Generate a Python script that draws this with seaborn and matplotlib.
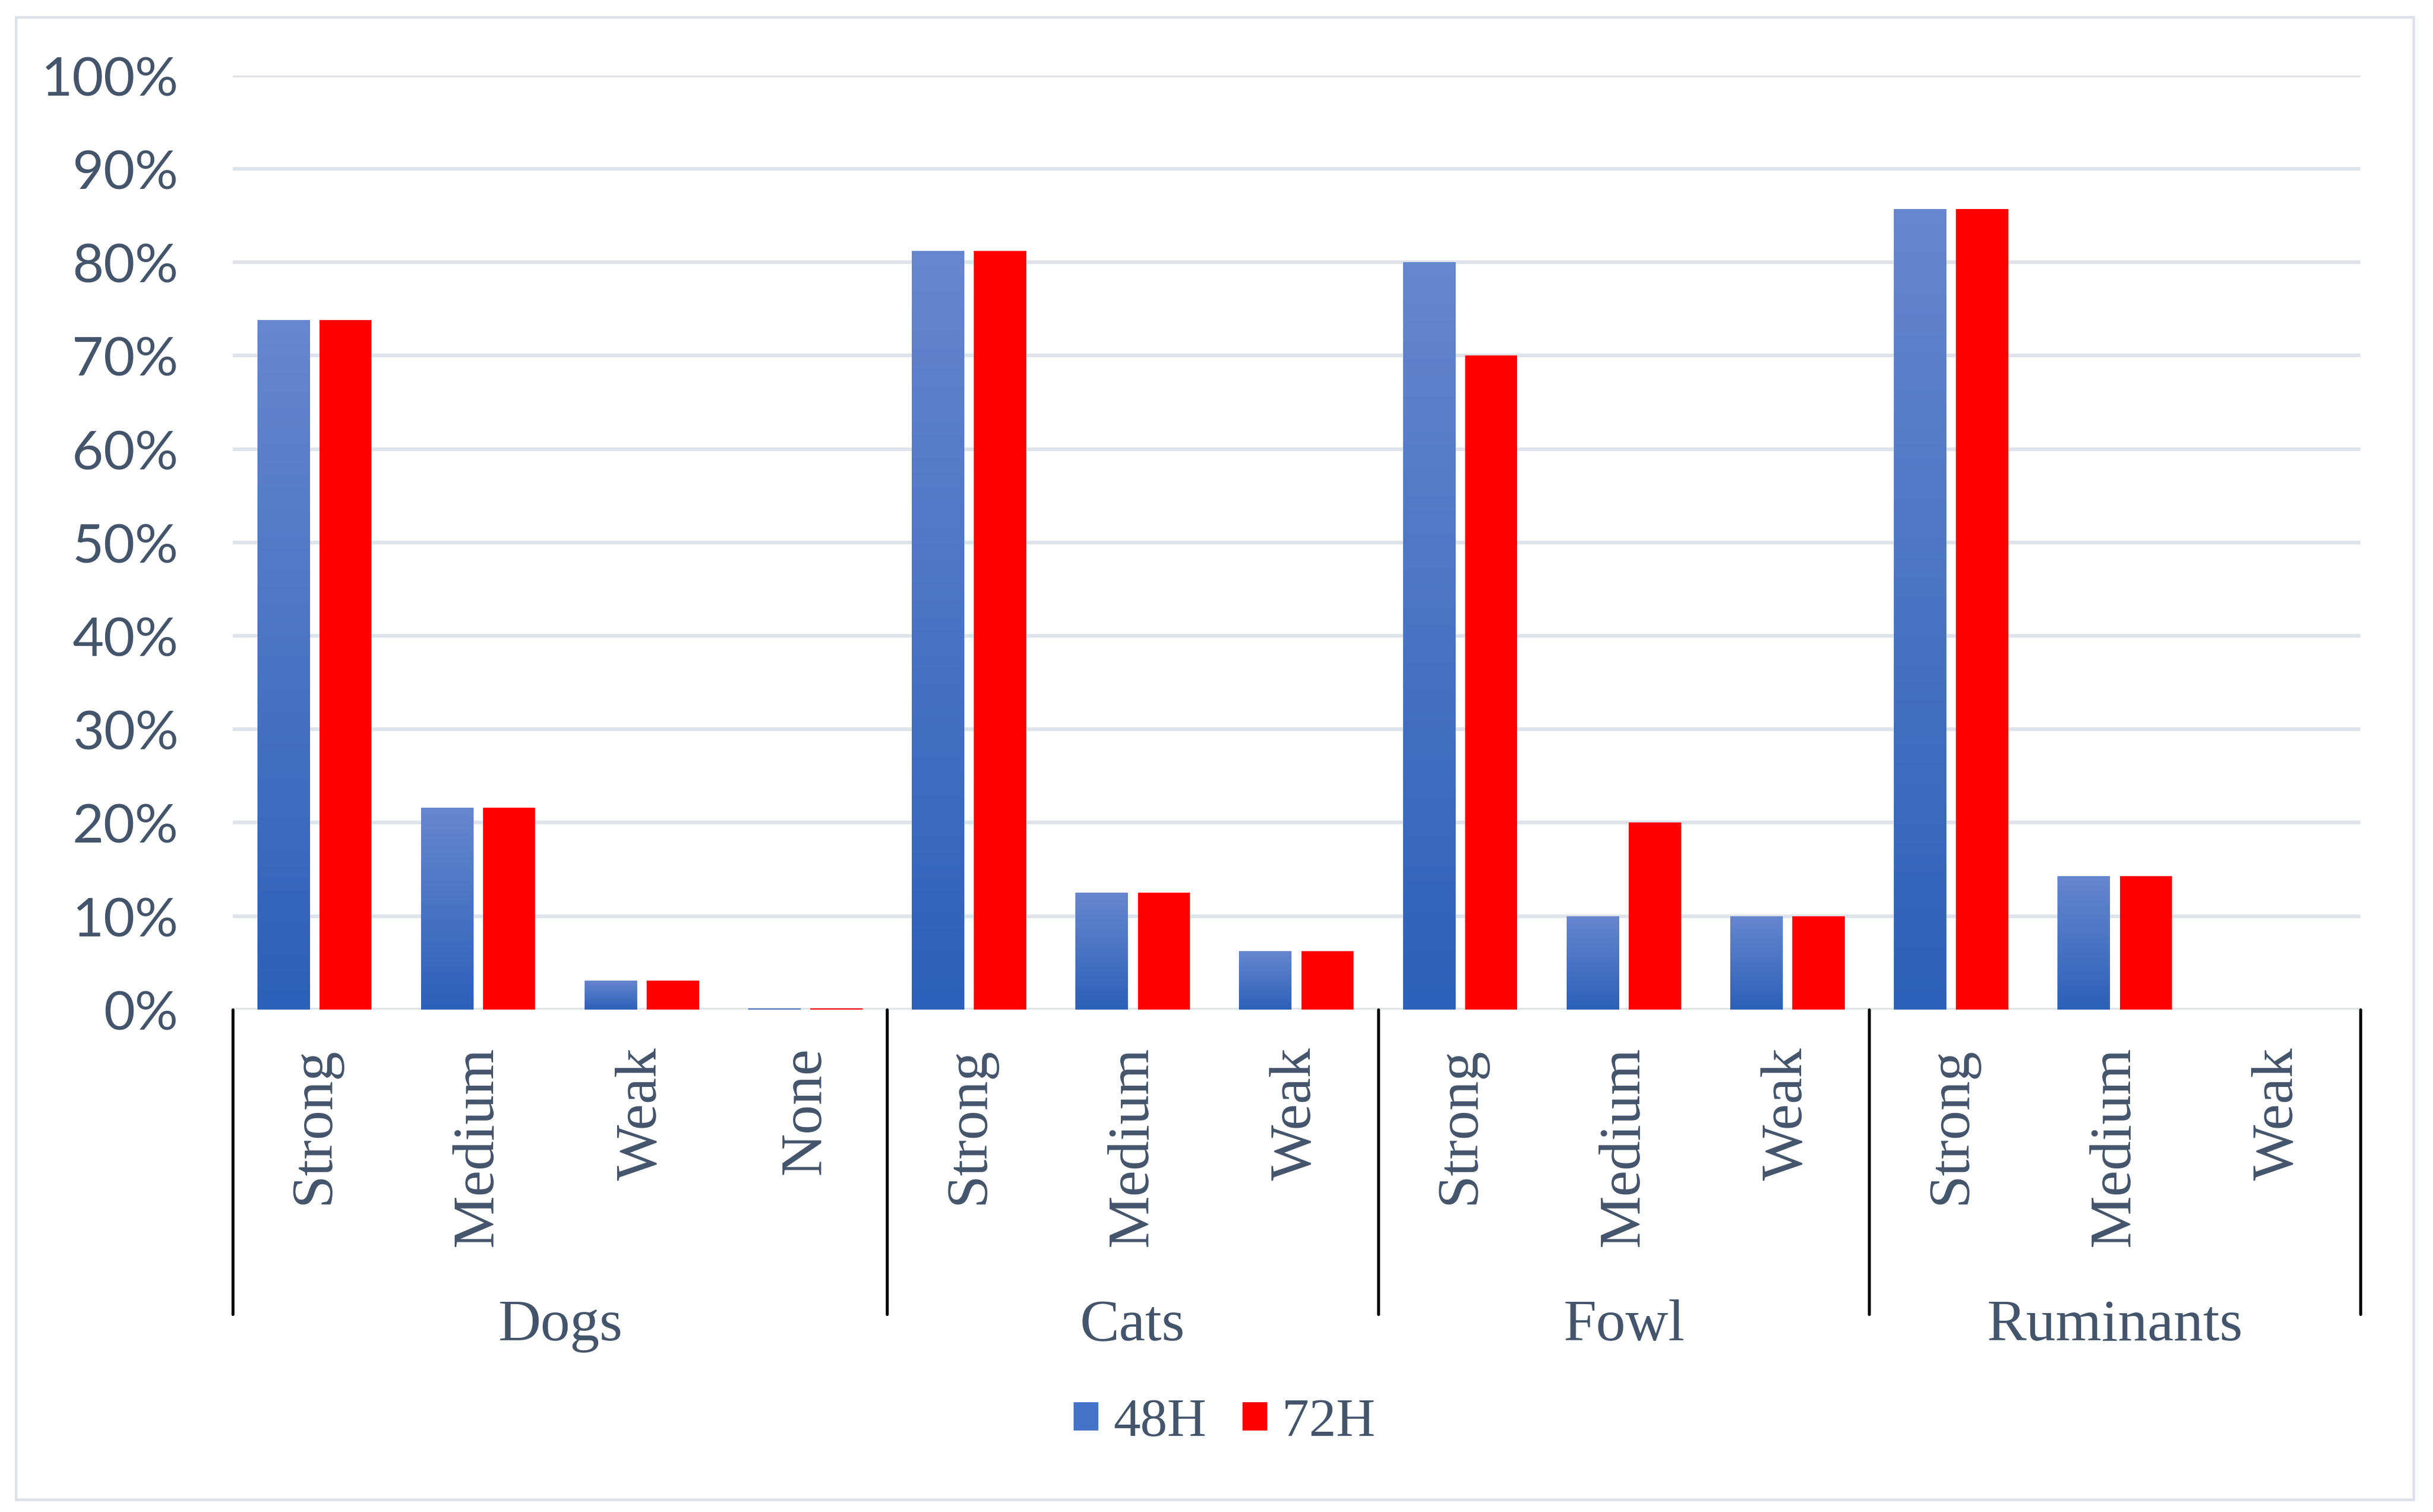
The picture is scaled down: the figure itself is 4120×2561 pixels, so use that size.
import numpy as np
import pandas as pd
import matplotlib
matplotlib.use("Agg")
import matplotlib.pyplot as plt
import seaborn as sns
from matplotlib.colors import LinearSegmentedColormap, to_rgb
from matplotlib.patches import Patch, Rectangle
from matplotlib.transforms import blended_transform_factory
from matplotlib.ticker import PercentFormatter

# values (fractions)
groups = ["Dogs", "Cats", "Fowl", "Ruminants"]
levels = [["Strong", "Medium", "Weak", "None"],
          ["Strong", "Medium", "Weak"],
          ["Strong", "Medium", "Weak"],
          ["Strong", "Medium", "Weak"]]
series = ["48H", "72H"]
values_48h = [0.738, 0.216, 0.031, 0.001,
              0.8125, 0.125, 0.0625,
              0.80, 0.10, 0.10,
              0.857, 0.143, 0.0]
values_72h = [0.738, 0.216, 0.031, 0.001,
              0.8125, 0.125, 0.0625,
              0.70, 0.20, 0.10,
              0.857, 0.143, 0.0]

# build the long table seaborn wants
slots, slot_labels = [], []
for g, lv in zip(groups, levels):
    for l in lv:
        slots.append(g + "|" + l)
        slot_labels.append(l)
df = pd.DataFrame({
    "slot": slots * 2,
    "value": values_48h + values_72h,
    "time": [series[0]] * len(slots) + [series[1]] * len(slots),
})

blue = "#4573C8"
red = "#FF0000"
grad_bottom = "#2D60B8"
grad_top = "#6787CE"
text_col = "#44546A"
serif = ["Liberation Serif", "DejaVu Serif"]

sns.set_theme(style="whitegrid")
fig = plt.figure(figsize=(4120 / 300, 2562 / 300), dpi=300)
ax = fig.add_axes([0.0956, 0.3322, 0.8745, 0.6175])

sns.barplot(data=df, x="slot", y="value", hue="time", order=slots,
            hue_order=series, palette=[blue, red], saturation=1,
            width=0.76, gap=0.16, linewidth=0, errorbar=None,
            legend=False, ax=ax, zorder=3)

# vertical gradient on the 48H bars
cmap = LinearSegmentedColormap.from_list("g48", [grad_bottom, grad_top])
grad = np.linspace(0, 1, 256).reshape(-1, 1)
for p in list(ax.patches):
    if np.allclose(p.get_facecolor()[:3], to_rgb(blue)) and p.get_height() > 0:
        x0, y0, w, h = p.get_x(), p.get_y(), p.get_width(), p.get_height()
        im = ax.imshow(grad, extent=[x0, x0 + w, y0, y0 + h], origin="lower",
                       aspect="auto", cmap=cmap, zorder=3.5)
        im.set_clip_path(p)

ax.set_xlim(-0.5, len(slots) - 0.5)
ax.set_ylim(0, 1)
ax.set_xlabel("")
ax.set_ylabel("")
for s in ax.spines.values():
    s.set_visible(False)
ax.grid(axis="x", visible=False)
ax.grid(axis="y", color="#DFE3EA", linewidth=1.5)
ax.set_axisbelow(True)

ax.set_yticks(np.arange(0, 1.01, 0.1))
ax.yaxis.set_major_formatter(PercentFormatter(1.0, decimals=0))
ax.tick_params(axis="y", length=0, pad=22)
for t in ax.get_yticklabels():
    t.set_fontfamily(["Lato", "DejaVu Sans"])
    t.set_fontsize(22)
    t.set_color(text_col)

ax.set_xticks(range(len(slots)))
ax.set_xticklabels(slot_labels, rotation=90, fontsize=24, color=text_col)
for t in ax.get_xticklabels():
    t.set_fontfamily(serif)
ax.tick_params(axis="x", length=0, pad=15)

# multi-level category axis: separators and group names
trans = blended_transform_factory(ax.transData, fig.transFigure)
bounds = [-0.5]
for lv in levels:
    bounds.append(bounds[-1] + len(lv))
for xb in bounds:
    ax.plot([xb, xb], [0.1308, 0.3322], transform=trans, color="black",
            lw=1.2, clip_on=False, zorder=5)
for g, a, b in zip(groups, bounds[:-1], bounds[1:]):
    ax.text((a + b) / 2, 0.114, g, transform=trans, ha="center", va="baseline",
            fontsize=24, family=serif, color=text_col)
ax.set_xlim(-0.5, len(slots) - 0.5)
ax.set_ylim(0, 1)

handles = [Patch(facecolor=blue, label=series[0]),
           Patch(facecolor=red, label=series[1])]
fig.legend(handles=handles, loc="center", bbox_to_anchor=(0.503, 0.0593),
           ncol=2, frameon=False, handlelength=0.5, handleheight=0.5,
           handletextpad=0.25, columnspacing=0.65,
           prop={"family": serif, "size": 22}, labelcolor=text_col)

# light frame around the whole chart
fig.add_artist(Rectangle((0.00655, 0.0082), 0.9855, 0.9801,
                         transform=fig.transFigure, fill=False,
                         edgecolor="#DDE1E8", lw=1.1))

fig.savefig("out.png", dpi=300)
